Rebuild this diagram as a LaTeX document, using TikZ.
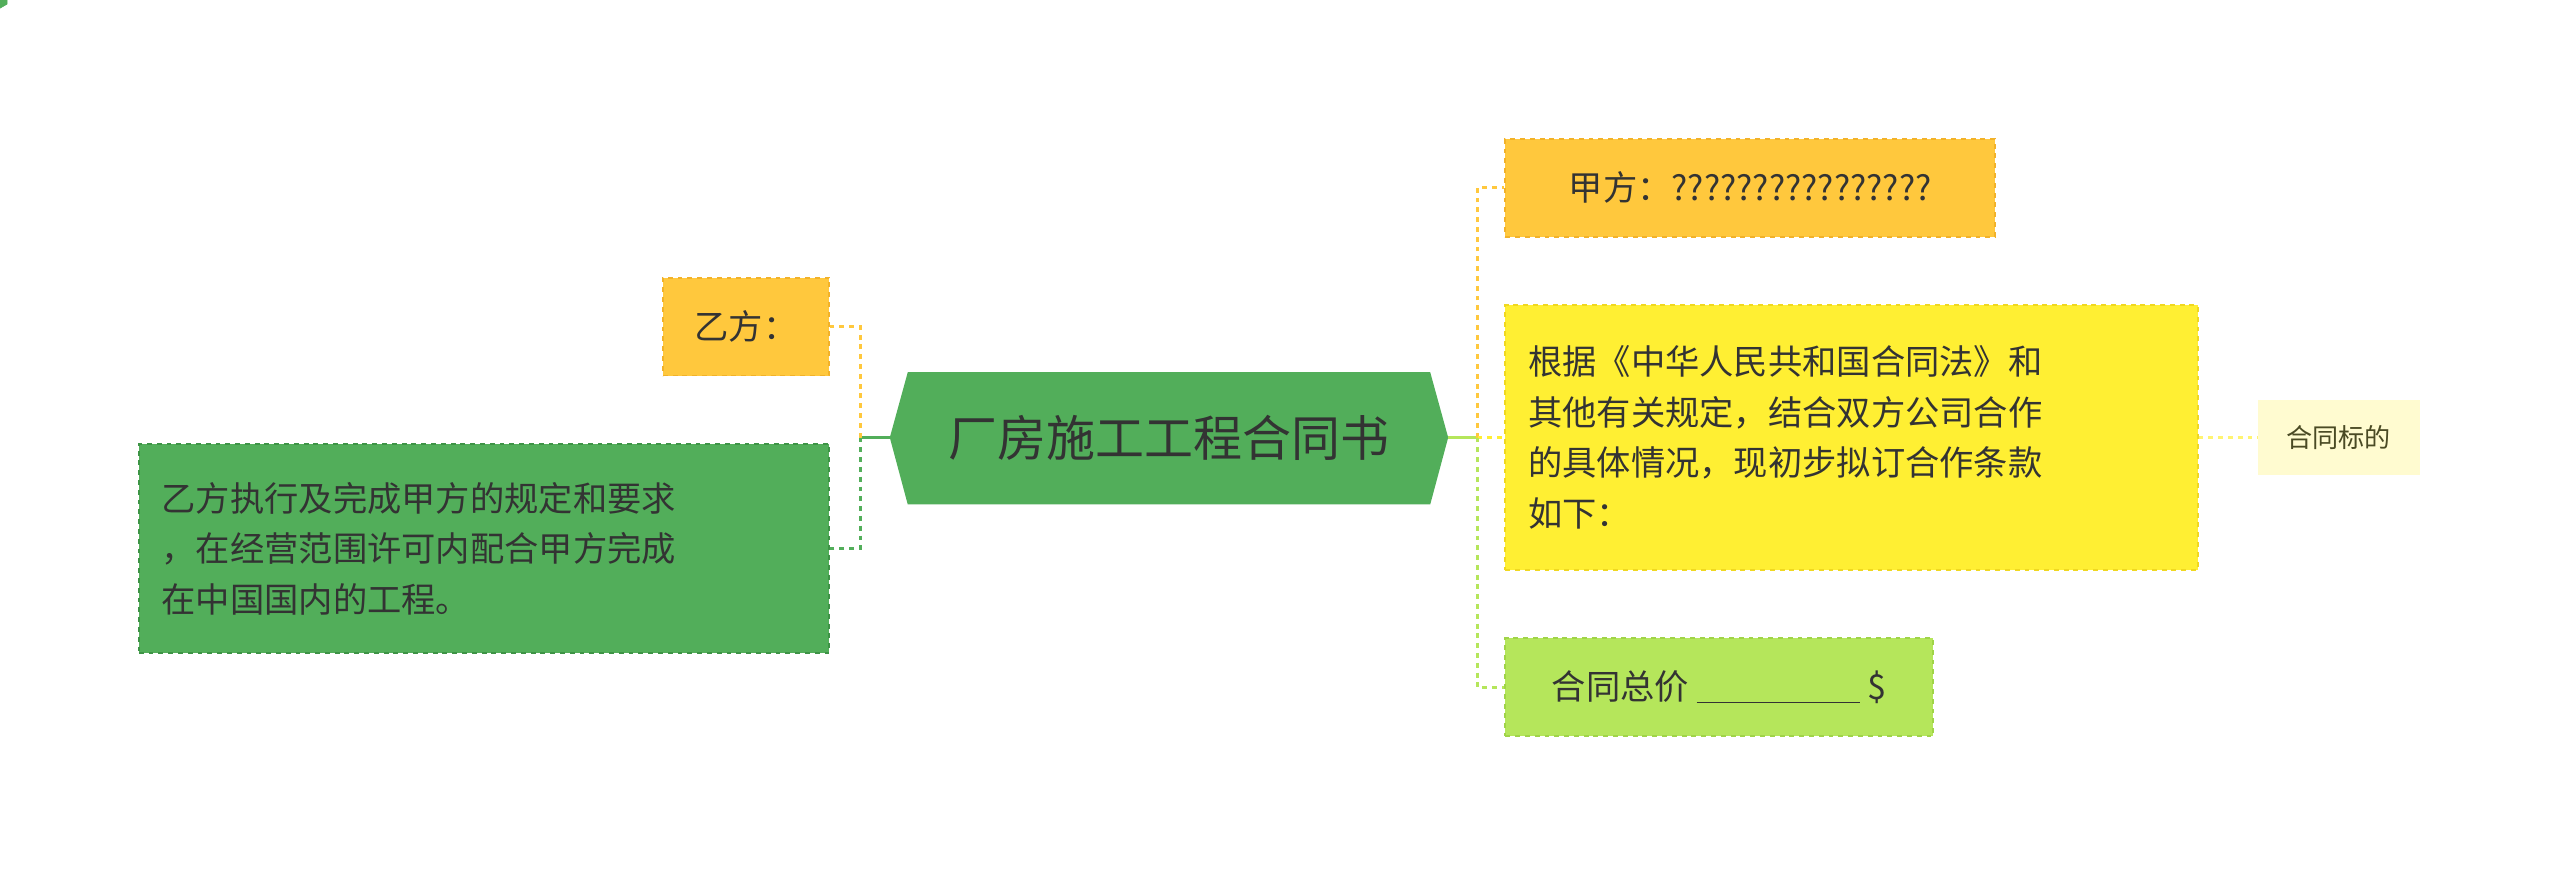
\documentclass[tikz,border=0pt]{standalone}
\usepackage{fontspec}
\newfontfamily\cjk{Noto Sans CJK SC}
\usetikzlibrary{shapes.geometric}
\definecolor{cOr}{HTML}{FFC83D}
\definecolor{cOrD}{HTML}{F2B22A}
\definecolor{cGr}{HTML}{52AE5A}
\definecolor{cGrD}{HTML}{3E9446}
\definecolor{cYe}{HTML}{FFEF33}
\definecolor{cYeD}{HTML}{F0D820}
\definecolor{cLg}{HTML}{B5E65B}
\definecolor{cLgD}{HTML}{A0D448}
\definecolor{cPa}{HTML}{FFFBD0}
\definecolor{cTx}{HTML}{333333}
\begin{document}
\begin{tikzpicture}[x=1pt,y=-1pt,
  box/.style={draw, dashed, line width=1.2pt, inner sep=0pt, text=cTx, font=\cjk\fontsize{21}{31}\selectfont, minimum height=60pt},
  con/.style={dashed, line width=1.8pt}]
\useasboundingbox (0,0) rectangle (1568,537);
\node[fill=cGr, draw=cGr, regular polygon, regular polygon sides=6, shape border rotate=30, minimum size=10pt, inner sep=0pt] at (0,0) {};
\path[fill=cGr] (545,268) -- (556,228) -- (876,228) -- (887,268) -- (876,309) -- (556,309) -- cycle;
\node (c) at (716,268) [text=cTx, font=\cjk\fontsize{30}{36}\selectfont] {厂房施工工程合同书};
\coordinate (cl) at (545,268); \coordinate (cr) at (887,268);
\node[box, fill=cOr, draw=cOrD, minimum width=102pt] (y) at (457,200) {乙方：};
\node[box, fill=cGr, draw=cGrD, minimum width=423pt, minimum height=128pt, align=left, text width=395pt] (g) at (296.5,336) {乙方执行及完成甲方的规定和要求\\，在经营范围许可内配合甲方完成\\在中国国内的工程。};
\node[box, fill=cOr, draw=cOrD, minimum width=300pt] (j) at (1072,115) {甲方：????????????????};
\node[box, fill=cYe, draw=cYeD, minimum width=424pt, minimum height=162pt, align=left, text width=396pt] (m) at (1134,268) {根据《中华人民共和国合同法》和\\其他有关规定，结合双方公司合作\\的具体情况，现初步拟订合作条款\\如下：};
\node[box, fill=cLg, draw=cLgD, minimum width=262pt] (h) at (1053,421) {合同总价 \underline{\hspace{100pt}} \$};
\node[fill=cPa, text=cTx!70!olive, font=\cjk\fontsize{16}{20}\selectfont, minimum width=99pt, minimum height=46pt, inner sep=0pt] (b) at (1432.5,268) {合同标的};
\draw[cGr, line width=1.8pt] (cl) -- (527,268);
\draw[con, cOr] (527,268) -- (527,200) -- (y.east);
\draw[con, cGr] (527,268) -- (527,336) -- (g.east);
\draw[con, cLg, solid] (cr) -- (905,268);
\draw[con, cOr] (905,268) -- (905,115) -- (j.west);
\draw[con, cYe] (905,268) -- (m.west);
\draw[con, cLg] (905,268) -- (905,421) -- (h.west);
\draw[con, cYe!60!cPa] (m.east) -- (b.west);
\end{tikzpicture}
\end{document}
